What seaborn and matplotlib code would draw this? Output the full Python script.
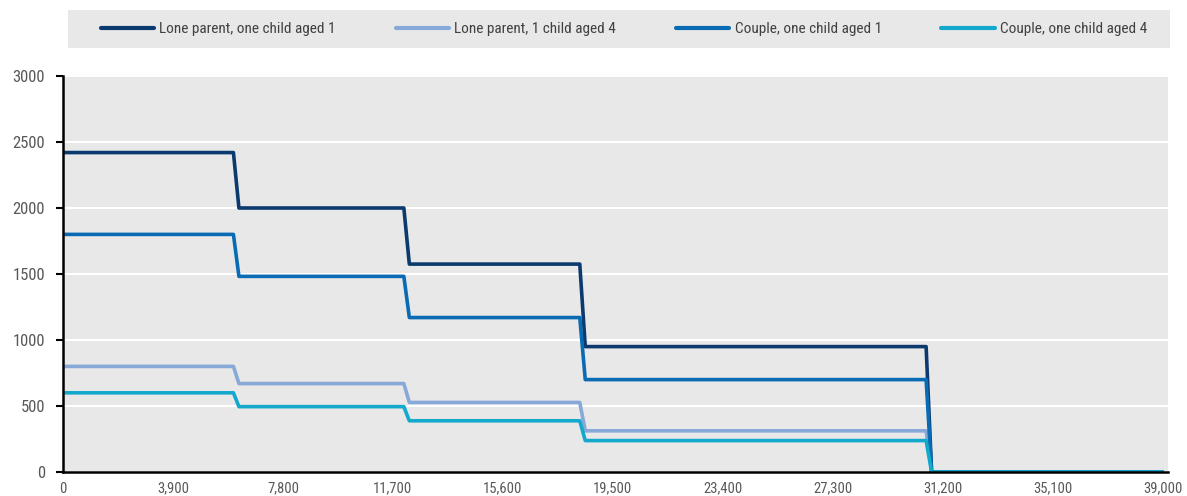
import matplotlib
matplotlib.use("Agg")
import matplotlib.pyplot as plt
import seaborn as sns
import pandas as pd
from matplotlib.patches import Rectangle
from matplotlib.lines import Line2D

# Data (corner points of the step lines)
income = [0, 6045, 6240, 12090, 12285, 18330, 18525, 30615, 30810, 39000]
lone_parent_age1 = [2420, 2420, 2000, 2000, 1575, 1575, 950, 950, 0, 0]
lone_parent_age4 = [800, 800, 670, 670, 527, 527, 312, 312, 0, 0]
couple_age1 = [1800, 1800, 1482, 1482, 1170, 1170, 700, 700, 0, 0]
couple_age4 = [600, 600, 495, 495, 388, 388, 238, 238, 0, 0]

series_names = ["Lone parent, one child aged 1", "Lone parent, 1 child aged 4",
                "Couple, one child aged 1", "Couple, one child aged 4"]
series_values = [lone_parent_age1, lone_parent_age4, couple_age1, couple_age4]
colors = ["#0B3A6E", "#86A9D8", "#0A6BB5", "#12A9CC"]

xticks = [0, 3900, 7800, 11700, 15600, 19500, 23400, 27300, 31200, 35100, 39000]
xtick_labels = ["0", "3,900", "7,800", "11,700", "15,600", "19,500", "23,400",
                "27,300", "31,200", "35,100", "39,000"]
yticks = [0, 500, 1000, 1500, 2000, 2500, 3000]

rows = []
for name, vals in zip(series_names, series_values):
    for x, y in zip(income, vals):
        rows.append({"income": x, "value": y, "series": name})
df = pd.DataFrame(rows)

sns.set_theme(style="white")
plt.rcParams["font.family"] = ["Roboto Condensed", "Liberation Sans", "DejaVu Sans"]

fig = plt.figure(figsize=(11.87, 4.96), dpi=100)
ax = fig.add_axes([63 / 1187, 1 - 472 / 496, (1168 - 63) / 1187, (472 - 76) / 496])
ax.set_facecolor("#E8E8E8")

sns.lineplot(data=df, x="income", y="value", hue="series", hue_order=series_names,
             palette=colors, linewidth=2.6, ax=ax, legend=False, sort=False,
             estimator=None)

ax.set_xlim(0, 39000 * 1005 / 1000)
ax.set_ylim(0, 3000)
ax.set_xticks(xticks)
ax.set_xticklabels(xtick_labels)
ax.set_yticks(yticks)
ax.set_xlabel("")
ax.set_ylabel("")
ax.grid(axis="y", color="white", linewidth=1.5)
ax.set_axisbelow(True)
for s in ["top", "right"]:
    ax.spines[s].set_visible(False)
ax.spines["left"].set_color("black")
ax.spines["left"].set_linewidth(1.8)
ax.spines["bottom"].set_color("black")
ax.spines["bottom"].set_linewidth(1.8)
ax.tick_params(axis="y", which="both", left=True, length=5, width=1.5, color="black",
               labelsize=12, labelcolor="#595959", pad=8)
ax.tick_params(axis="x", which="both", bottom=False, labelsize=10.5, labelcolor="#595959", pad=1)

# legend box
fig.patches.append(Rectangle((68 / 1187, 1 - 48 / 496), (1170 - 68) / 1187, 38 / 496,
                             transform=fig.transFigure, facecolor="#E8E8E8",
                             edgecolor="none", zorder=0))
handles = [Line2D([0], [0], color=c, linewidth=3) for c in colors]
fig.legend(handles, series_names, loc="center", bbox_to_anchor=(624 / 1187, 1 - 29 / 496),
           ncol=4, frameon=False, fontsize=11, handlelength=3.5, handletextpad=0.35,
           columnspacing=3.9, labelcolor="#404040")

fig.savefig("out.png", dpi=100)
